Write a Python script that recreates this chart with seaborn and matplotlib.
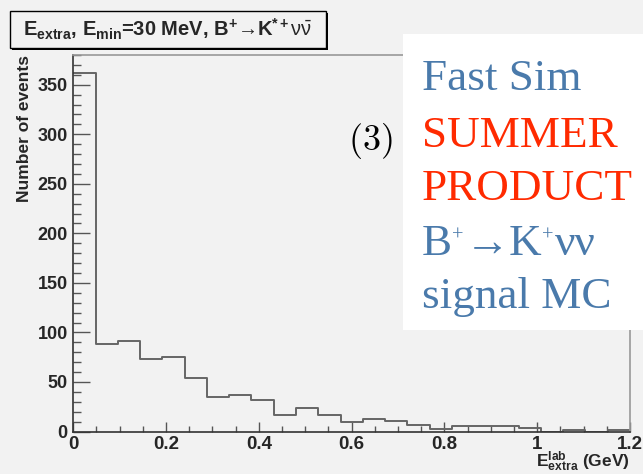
import numpy as np
import pandas as pd
import matplotlib
matplotlib.use("Agg")
import matplotlib.pyplot as plt
from matplotlib.patches import Rectangle
from matplotlib.ticker import MultipleLocator
from matplotlib.transforms import offset_copy
import seaborn as sns

# ---- data ----
x_min, x_max, n_bins = 0.0, 1.2, 25
counts = [362, 88, 91, 73, 75, 54, 35, 37, 32, 17, 24, 17, 10, 13, 11,
          7, 3, 6, 6, 6, 4, 0, 2, 0, 2]
y_ticks = [0, 50, 100, 150, 200, 250, 300, 350]
x_ticks = [0, 0.2, 0.4, 0.6, 0.8, 1.0, 1.2]
x_tick_labels = ["0", "0.2", "0.4", "0.6", "0.8", "1", "1.2"]
overlay_lines = ["Fast Sim", "SUMMER", "PRODUCT", None, "signal MC"]
decay_pieces = [("B", False), ("+", True), ("→K", False), ("+", True), ("νν", False)]
overlay_colors = ["#4a7aab", "#ff2a00", "#ff2a00", "#4a7aab", "#4a7aab"]

edges = np.linspace(x_min, x_max, n_bins + 1)
centers = (edges[:-1] + edges[1:]) / 2
df = pd.DataFrame({"E": centers, "w": np.asarray(counts, dtype=float)})

sns.set_theme(style="ticks")
plt.rcParams["font.family"] = ["Liberation Sans", "DejaVu Sans"]
plt.rcParams["mathtext.fontset"] = "custom"
plt.rcParams["mathtext.rm"] = "Liberation Sans"
plt.rcParams["mathtext.bf"] = "Liberation Sans:bold"
plt.rcParams["mathtext.it"] = "Liberation Sans:italic"

BG = "#f2f2f2"
fig = plt.figure(figsize=(6.43, 4.74), dpi=100, facecolor=BG)
ax = fig.add_axes([73.3 / 643, 1 - 431.5 / 474, (630 - 73.3) / 643, (431.5 - 55) / 474])
ax.set_facecolor(BG)

sns.histplot(data=df, x="E", weights="w", bins=n_bins, binrange=(x_min, x_max),
             element="step", fill=False, color="#666666", linewidth=1.4, ax=ax)

ax.set_xlim(x_min, x_max)
ax.set_ylim(0, 380)
ax.set_xticks(x_ticks)
ax.set_xticklabels(x_tick_labels)
ax.set_yticks(y_ticks)
ax.xaxis.set_minor_locator(MultipleLocator(0.05))
ax.yaxis.set_minor_locator(MultipleLocator(10))
ax.tick_params(axis="y", which="major", direction="in", length=12, width=1, color="#555555",
               labelsize=13, pad=4)
ax.tick_params(axis="y", which="minor", direction="in", length=6, width=1, color="#555555")
ax.tick_params(axis="x", which="major", direction="in", length=7, width=1, color="#555555",
               labelsize=13.5, pad=3)
ax.tick_params(axis="x", which="minor", direction="in", length=4, width=1, color="#555555")
for lab in ax.get_xticklabels() + ax.get_yticklabels():
    lab.set_fontweight("bold")

for s in ["left", "bottom"]:
    ax.spines[s].set_color("#333333")
    ax.spines[s].set_linewidth(1.2)
for s in ["top", "right"]:
    ax.spines[s].set_color("#999999")
    ax.spines[s].set_linewidth(1.2)

ax.set_ylabel("Number of events", loc="top", fontsize=12.5, fontweight="bold", labelpad=4)
ax.set_xlabel(r"$\mathbf{E^{lab}_{extra}}$ (GeV)", loc="right", fontsize=12.5,
              fontweight="bold", labelpad=-2)

# title box (ROOT style with shadow)
bx0, by0, bw, bh = 10 / 643, 1 - 48 / 474, 316 / 643, 37 / 474
fig.add_artist(Rectangle((bx0 + 2 / 643, by0 - 2 / 474), bw, bh, transform=fig.transFigure,
                         facecolor="black", edgecolor="none", zorder=5))
fig.add_artist(Rectangle((bx0, by0), bw, bh, transform=fig.transFigure,
                         facecolor=BG, edgecolor="black", linewidth=1.0, zorder=6))
fig.text(bx0 + bw / 2, by0 + bh / 2,
         r"$\mathbf{E_{extra}}$, $\mathbf{E_{min}}$=30 MeV, $\mathbf{B^{+}}$→$\mathbf{K^{*+}}$$\mathrm{\nu\bar{\nu}}$",
         ha="center", va="center", fontsize=14.5, fontweight="bold", zorder=7)

# white overlay box with text
fig.add_artist(Rectangle((403 / 643, 1 - 330 / 474), 0.5, 296 / 474, transform=fig.transFigure,
                         facecolor="white", edgecolor="none", zorder=8))
baselines = [90, 147, 200, 255, 308]
serif = ["Liberation Serif", "DejaVu Serif"]
FS = 32.5
renderer = fig.canvas.get_renderer()
for txt, col, yb in zip(overlay_lines, overlay_colors, baselines):
    if txt is not None:
        fig.text(422 / 643, 1 - yb / 474, txt, color=col, fontsize=FS, family=serif,
                 ha="left", va="baseline", zorder=9)
    else:
        xpix = 422.0
        for piece, sup in decay_pieces:
            fs = FS * 0.45 if sup else FS
            dy = 14 if sup else 0
            t = fig.text(xpix / 643, 1 - (yb - dy) / 474, piece, color=col, fontsize=fs,
                         family=serif, ha="left", va="baseline", zorder=9)
            xpix += t.get_window_extent(renderer).width + (1 if sup else 0)

fig.text(370 / 643, 1 - 150 / 474, r"$\mathrm{(3)}$", fontsize=26, math_fontfamily="cm",
         ha="center", va="baseline", color="black", zorder=9)

fig.savefig("out.png", dpi=100, facecolor=BG)
